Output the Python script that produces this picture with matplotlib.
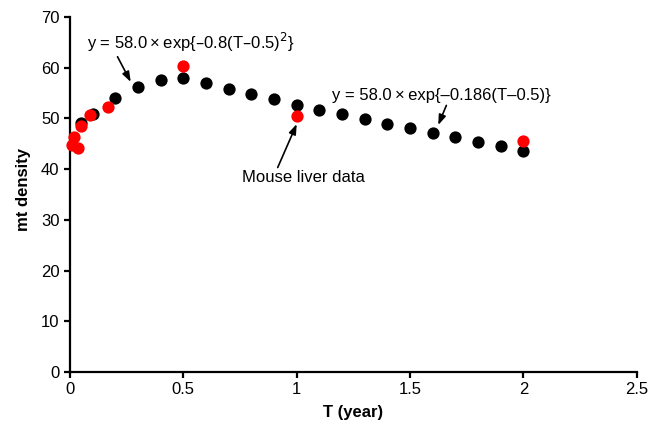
import matplotlib
matplotlib.use("Agg")
import matplotlib.pyplot as plt

plt.rcParams["font.family"] = ["Liberation Sans", "DejaVu Sans"]

# model curve samples (black)
model_t = [0.05, 0.1, 0.2, 0.3, 0.4, 0.5, 0.6, 0.7, 0.8, 0.9, 1.0,
           1.1, 1.2, 1.3, 1.4, 1.5, 1.6, 1.7, 1.8, 1.9, 2.0]
model_y = [49.2, 50.9, 54.0, 56.2, 57.5, 58.0, 56.9, 55.9, 54.8, 53.8, 52.7,
           51.7, 50.9, 49.9, 49.0, 48.1, 47.2, 46.3, 45.4, 44.6, 43.6]

# mouse liver measurements (red)
data_t = [0.007, 0.018, 0.035, 0.047, 0.088, 0.167, 0.5, 1.0, 2.0]
data_y = [44.8, 46.3, 44.1, 48.6, 50.7, 52.2, 60.4, 50.4, 45.6]

fig, ax = plt.subplots(figsize=(6.62, 4.26), dpi=100)
fig.subplots_adjust(left=0.1057, right=0.962, bottom=0.1268, top=0.960)

ax.scatter(model_t, model_y, s=78, color="black", zorder=3, linewidths=0,
           clip_on=False)
ax.scatter(data_t, data_y, s=78, color="#ff0000", zorder=4, linewidths=0,
           clip_on=False)

ax.set_xlim(0, 2.5)
ax.set_ylim(0, 70)
ax.set_xticks([0, 0.5, 1, 1.5, 2, 2.5])
ax.set_xticklabels(["0", "0.5", "1", "1.5", "2", "2.5"])
ax.set_yticks(range(0, 71, 10))

for side in ("top", "right"):
    ax.spines[side].set_visible(False)
for side in ("left", "bottom"):
    ax.spines[side].set_linewidth(1.6)
ax.tick_params(axis="both", labelsize=12, width=1.6, length=4, direction="out")
ax.tick_params(axis="x", pad=3)

ax.set_xlabel("T (year)", fontsize=12, fontweight="bold")
ax.xaxis.set_label_coords(0.5, -0.093)
ax.set_ylabel("mt density", fontsize=12, fontweight="bold")
ax.yaxis.set_label_coords(-0.069, 0.515)

arrow = dict(arrowstyle="-|>,head_length=0.5,head_width=0.18", color="black",
             lw=1.2, shrinkA=0, shrinkB=0)
ax.annotate("y = 58.0\u2009\u00d7\u2009exp{\u20130.8(T\u20130.5)$^2$}",
            xy=(0.268, 57.2), xytext=(0.075, 65.0), fontsize=12,
            ha="left", va="center", arrowprops=dict(arrow, relpos=(0.14, 0.0)))
ax.annotate("y = 58.0\u2009\u00d7\u2009exp{\u20130.186(T\u20130.5)}",
            xy=(1.624, 48.7), xytext=(1.154, 54.6), fontsize=12,
            ha="left", va="center", arrowprops=dict(arrow, relpos=(0.53, 0.0)))
ax.annotate("Mouse liver data",
            xy=(1.0, 48.9), xytext=(1.03, 38.3), fontsize=12,
            ha="center", va="center", arrowprops=dict(arrow, relpos=(0.28, 1.0)))

fig.savefig("out.png", dpi=100)
